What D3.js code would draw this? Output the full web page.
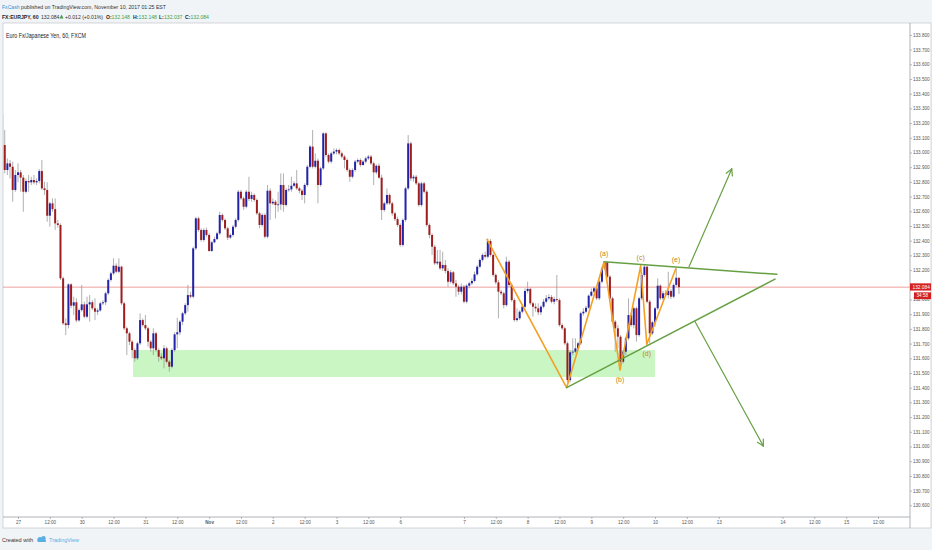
<!DOCTYPE html>
<html>
<head>
<meta charset="utf-8">
<script src="https://cdn.jsdelivr.net/npm/d3@7"></script>
<style>
body { margin: 0; background: #f1f4f7; font-family: "Liberation Sans", Arial, sans-serif; }
</style>
</head>
<body>
<div id="chart"></div>
<script>
// EURJPY 60 min candles, FXCM. bar index 0 = Oct 27 00:00
var firstBar = -6;
var firstOpen = 133.255;

var closes = [
  133.051, 132.881, 132.926, 132.903, 132.745, 132.847, 132.865, 132.829, 132.733, 132.806,
  132.797, 132.813, 132.797, 132.806, 132.874, 132.756, 132.745, 132.570, 132.654, 132.615,
  132.518, 132.507, 132.144, 131.838, 131.826, 132.103, 131.958, 131.981, 131.858, 131.928,
  131.967, 131.883, 131.967, 131.981, 131.940, 131.917, 131.926, 131.974, 131.981, 132.042,
  132.133, 132.178, 132.230, 132.189, 132.223, 131.974, 131.804, 131.770, 131.713, 131.656,
  131.600, 131.702, 131.860, 131.826, 131.804, 131.713, 131.668, 131.770, 131.656, 131.611,
  131.600, 131.668, 131.577, 131.543, 131.656, 131.763, 131.777, 131.849, 131.906, 131.962,
  132.030, 132.019, 132.348, 132.552, 132.473, 132.405, 132.473, 132.439, 132.330, 132.389,
  132.411, 132.450, 132.575, 132.541, 132.484, 132.421, 132.439, 132.495, 132.541, 132.733,
  132.688, 132.631, 132.733, 132.684, 132.711, 132.677, 132.586, 132.507, 132.575, 132.427,
  132.740, 132.654, 132.665, 132.643, 132.647, 132.779, 132.643, 132.745, 132.749, 132.774,
  132.790, 132.756, 132.740, 132.711, 132.779, 132.903, 133.040, 132.903, 132.944, 132.779,
  132.892, 133.130, 132.983, 132.938, 132.994, 133.006, 133.017, 132.994, 132.972, 132.949,
  132.881, 132.835, 132.881, 132.938, 132.949, 132.915, 132.938, 132.960, 132.972, 132.926,
  132.865, 132.910, 132.829, 132.609, 132.654, 132.711, 132.654, 132.586, 132.547, 132.507,
  132.371, 132.541, 132.756, 133.062, 132.824, 132.835, 132.790, 132.643, 132.790, 132.733,
  132.507, 132.439, 132.359, 132.246, 132.257, 132.212, 132.235, 132.194, 132.121, 132.185,
  132.110, 132.087, 132.053, 132.087, 131.985, 132.094, 132.110, 132.126, 132.171, 132.223,
  132.269, 132.303, 132.291, 132.398, 132.303, 132.167, 132.117, 132.053, 132.042, 131.962,
  132.257, 132.099, 131.996, 131.860, 131.872, 131.917, 131.951, 132.058, 132.072, 131.974,
  131.951, 131.940, 131.913, 131.951, 131.985, 132.008, 132.017, 131.985, 132.003, 131.996,
  131.826, 131.804, 131.702, 131.452, 131.641, 131.645, 131.668, 131.702, 131.906, 131.917,
  131.944, 132.026, 132.053, 132.076, 132.008, 132.121, 132.212, 132.253, 132.155, 132.008,
  131.849, 131.804, 131.747, 131.577, 131.645, 131.736, 131.894, 131.826, 131.940, 131.758,
  132.008, 132.167, 132.223, 131.985, 131.770, 131.845, 131.940, 132.094, 132.008, 132.042,
  132.030, 132.058, 132.019, 132.099, 132.148, 132.084
];

var highs = [
  133.357, 133.153, 132.960, 132.949, 132.938, 132.881, 132.926, 132.881, 132.847, 132.824,
  132.847, 132.835, 132.847, 132.824, 132.888, 132.949, 132.801, 132.797, 132.665, 132.688,
  132.688, 132.541, 132.518, 132.155, 131.872, 132.110, 132.110, 132.019, 132.008, 131.940,
  132.099, 131.985, 132.019, 132.030, 131.996, 132.008, 131.940, 131.985, 131.996, 132.053,
  132.144, 132.189, 132.280, 132.246, 132.280, 132.230, 131.985, 131.815, 131.781, 131.724,
  131.668, 131.713, 131.906, 131.872, 131.894, 131.815, 131.724, 131.804, 131.781, 131.668,
  131.634, 131.690, 131.679, 131.588, 131.668, 131.777, 131.876, 131.860, 131.917, 131.974,
  132.099, 132.053, 132.359, 132.563, 132.563, 132.484, 132.484, 132.489, 132.450, 132.398,
  132.427, 132.461, 132.597, 132.586, 132.552, 132.495, 132.450, 132.507, 132.552, 132.745,
  132.745, 132.699, 132.745, 132.835, 132.733, 132.722, 132.688, 132.597, 132.586, 132.586,
  132.779, 132.756, 132.688, 132.677, 132.733, 132.858, 132.858, 132.756, 132.779, 132.835,
  132.806, 132.881, 132.767, 132.752, 132.790, 132.915, 133.051, 133.153, 132.994, 132.960,
  132.903, 133.137, 133.137, 132.994, 133.006, 133.028, 133.028, 133.028, 133.006, 132.983,
  132.960, 132.892, 132.892, 132.949, 132.960, 132.960, 132.949, 132.972, 132.983, 132.983,
  132.938, 132.919, 132.926, 132.850, 132.665, 132.756, 132.722, 132.665, 132.597, 132.563,
  132.518, 132.552, 132.767, 133.119, 133.074, 132.847, 132.847, 132.801, 132.801, 132.801,
  132.745, 132.518, 132.450, 132.371, 132.337, 132.337, 132.325, 132.269, 132.212, 132.201,
  132.194, 132.133, 132.099, 132.110, 132.099, 132.103, 132.121, 132.144, 132.189, 132.235,
  132.280, 132.314, 132.325, 132.416, 132.411, 132.314, 132.178, 132.133, 132.065, 132.053,
  132.291, 132.269, 132.110, 132.008, 131.940, 131.928, 131.962, 132.076, 132.121, 132.081,
  131.985, 131.974, 131.974, 131.962, 132.003, 132.030, 132.035, 132.030, 132.019, 132.167,
  132.008, 131.838, 131.815, 131.713, 131.656, 131.736, 131.736, 131.713, 131.917, 131.940,
  131.958, 132.035, 132.076, 132.087, 132.087, 132.133, 132.223, 132.262, 132.257, 132.167,
  132.019, 131.860, 131.826, 131.758, 131.656, 131.747, 132.008, 131.906, 131.951, 131.951,
  132.019, 132.178, 132.235, 132.230, 131.996, 131.854, 131.951, 132.144, 132.103, 132.058,
  132.065, 132.189, 132.072, 132.110, 132.212, 132.148
];

var lows = [
  133.040, 132.858, 132.847, 132.824, 132.665, 132.733, 132.797, 132.733, 132.597, 132.722,
  132.733, 132.779, 132.783, 132.779, 132.790, 132.745, 132.711, 132.529, 132.495, 132.597,
  132.473, 132.489, 132.133, 131.826, 131.758, 131.804, 131.940, 131.894, 131.845, 131.849,
  131.917, 131.872, 131.872, 131.849, 131.928, 131.860, 131.894, 131.917, 131.962, 131.962,
  132.030, 132.121, 132.167, 132.178, 132.178, 131.962, 131.792, 131.622, 131.690, 131.600,
  131.577, 131.588, 131.690, 131.815, 131.792, 131.679, 131.645, 131.622, 131.645, 131.577,
  131.588, 131.532, 131.566, 131.509, 131.532, 131.645, 131.668, 131.758, 131.826, 131.894,
  131.917, 132.008, 132.008, 132.337, 132.461, 132.393, 132.393, 132.427, 132.325, 132.325,
  132.382, 132.405, 132.439, 132.529, 132.473, 132.405, 132.411, 132.427, 132.484, 132.529,
  132.677, 132.609, 132.620, 132.670, 132.665, 132.665, 132.575, 132.484, 132.495, 132.416,
  132.416, 132.541, 132.643, 132.552, 132.597, 132.609, 132.597, 132.631, 132.733, 132.733,
  132.767, 132.745, 132.722, 132.677, 132.654, 132.767, 132.892, 132.892, 132.892, 132.654,
  132.767, 132.881, 132.972, 132.926, 132.926, 132.983, 132.987, 132.983, 132.960, 132.892,
  132.869, 132.801, 132.824, 132.869, 132.926, 132.903, 132.910, 132.926, 132.949, 132.915,
  132.779, 132.851, 132.820, 132.541, 132.597, 132.643, 132.643, 132.570, 132.534, 132.495,
  132.359, 132.359, 132.529, 132.745, 132.806, 132.801, 132.779, 132.631, 132.631, 132.722,
  132.495, 132.416, 132.303, 132.235, 132.235, 132.201, 132.194, 132.178, 132.087, 132.110,
  132.099, 132.019, 132.030, 132.035, 131.974, 131.974, 132.076, 132.099, 132.117, 132.162,
  132.212, 132.257, 132.280, 132.280, 132.291, 132.155, 132.103, 131.872, 132.030, 131.940,
  131.951, 132.087, 131.985, 131.849, 131.849, 131.860, 131.906, 131.940, 132.042, 131.962,
  131.883, 131.917, 131.894, 131.894, 131.940, 131.974, 131.996, 131.974, 131.967, 131.985,
  131.815, 131.792, 131.690, 131.436, 131.436, 131.622, 131.634, 131.656, 131.690, 131.890,
  131.906, 131.935, 132.019, 132.042, 131.996, 131.996, 132.110, 132.201, 132.144, 131.996,
  131.838, 131.645, 131.668, 131.527, 131.566, 131.622, 131.724, 131.815, 131.804, 131.713,
  131.747, 131.996, 132.155, 131.974, 131.702, 131.758, 131.815, 131.928, 131.996, 131.996,
  132.019, 132.008, 132.003, 132.008, 132.087, 132.037
];

var lastPrice = 132.084;
var countdown = "34:58";

var xTickBars = [0, 12, 24, 36, 48, 60, 72, 84, 96, 108, 120, 132, 144, 168, 180, 192, 204, 216, 228, 240, 252, 264, 288, 300, 312, 324];
var xTickLabels = ["27", "12:00", "30", "12:00", "31", "12:00", "Nov", "12:00", "2", "12:00", "3", "12:00", "6", "7", "12:00", "8", "12:00", "9", "12:00", "10", "12:00", "13", "14", "12:00", "15", "12:00"];
var yTicks = [130.6, 130.7, 130.8, 130.9, 131.0, 131.1, 131.2, 131.3, 131.4, 131.5, 131.6, 131.7, 131.8, 131.9, 132.0,
  132.1, 132.2, 132.3, 132.4, 132.5, 132.6, 132.7, 132.8, 132.9, 133.0, 133.1, 133.2, 133.3, 133.4, 133.5, 133.6, 133.7, 133.8];

// drawings
var zoneBars = [43.3, 240];
var zonePrices = [131.656, 131.473];
var waveBars = [176.6, 206.7, 220.8, 226.8, 234.6, 236.9, 247.9];
var wavePrices = [132.412, 131.400, 132.257, 131.520, 132.230, 131.695, 132.212];
var waveLabels = ["", "", "(a)", "(b)", "(c)", "(d)", "(e)"];
var upperLineBars = [220.8, 285.9];
var upperLinePrices = [132.257, 132.171];
var lowerLineBars = [206.7, 285.2];
var lowerLinePrices = [131.400, 132.139];
var arrowUpBars = [252.8, 268.9];
var arrowUpPrices = [132.223, 132.888];
var arrowDownBars = [255.1, 280.8];
var arrowDownPrices = [131.849, 131.003];

var width = 932, height = 550;
var plotL = 3, plotR = 910, plotT = 23, plotB = 517, axisB = 528;

var svg = d3.select("#chart").append("svg")
    .attr("width", width)
    .attr("height", height);

// header
var header = svg.append("g").style("font-family", "'Liberation Sans', Arial, sans-serif");
header.append("text").attr("x", 2).attr("y", 8.5).attr("font-size", 5.8).attr("fill", "#2f8fd8")
    .attr("textLength", 17.5).attr("lengthAdjust", "spacingAndGlyphs").text("FxCash");
header.append("text").attr("x", 21).attr("y", 8.5).attr("font-size", 5.8).attr("fill", "#333")
    .attr("textLength", 145).attr("lengthAdjust", "spacingAndGlyphs")
    .text("published on TradingView.com, November 10, 2017 01:25 EST");

// second header line: one text, pieces placed with tspans
var headParts = [
  ["FX:EURJPY, 60", 2, "#222", "bold"],
  ["132.084", 41, "#333", "normal"],
  ["+0.012 (+0.01%)", 65, "#333", "normal"],
  ["O:", 106, "#222", "bold"], ["132.148", 111.5, "#43a047", "normal"],
  ["H:", 133, "#222", "bold"], ["132.148", 138.5, "#43a047", "normal"],
  ["L:", 159, "#222", "bold"], ["132.037", 164, "#43a047", "normal"],
  ["C:", 185, "#222", "bold"], ["132.084", 190.5, "#43a047", "normal"]
];
var line2 = header.append("text").attr("y", 18.5).attr("font-size", 5.1);
headParts.forEach(function(p) {
  line2.append("tspan").attr("x", p[1]).attr("fill", p[2]).attr("font-weight", p[3]).text(p[0]);
});
header.append("path").attr("d", "M59.5,18.5 L61.5,14.5 L63.5,18.5 Z").attr("fill", "#43a047");

// panel
svg.append("rect").attr("x", plotL).attr("y", plotT).attr("width", width - plotL - 1).attr("height", axisB - plotT)
    .attr("fill", "#fff").attr("stroke", "#c9ccd0").attr("stroke-width", 0.8);
svg.append("line").attr("x1", plotR).attr("x2", plotR).attr("y1", plotT).attr("y2", axisB)
    .attr("stroke", "#9aa0a6").attr("stroke-width", 0.8);
svg.append("line").attr("x1", plotL).attr("x2", plotR).attr("y1", plotB).attr("y2", plotB)
    .attr("stroke", "#9aa0a6").attr("stroke-width", 0.8);

svg.append("text").attr("x", 6).attr("y", 38).attr("font-size", 6.4).attr("fill", "#222")
    .attr("textLength", 80).attr("lengthAdjust", "spacingAndGlyphs")
    .text("Euro Fx/Japanese Yen, 60, FXCM");

var x = d3.scaleLinear().domain([0, 324]).range([18, 878]);
var y = d3.scaleLinear().domain([131.0, 133.0]).range([446.5, 152.5]);

svg.append("defs").append("clipPath").attr("id", "plot")
    .append("rect").attr("x", plotL).attr("y", plotT).attr("width", plotR - plotL).attr("height", plotB - plotT);

var plot = svg.append("g").attr("clip-path", "url(#plot)");

// support zone
plot.append("rect")
    .attr("x", x(zoneBars[0])).attr("width", x(zoneBars[1]) - x(zoneBars[0]))
    .attr("y", y(zonePrices[0])).attr("height", y(zonePrices[1]) - y(zonePrices[0]))
    .attr("fill", "#c9f6c3");

// last price line
plot.append("line").attr("x1", plotL).attr("x2", plotR)
    .attr("y1", y(lastPrice)).attr("y2", y(lastPrice))
    .attr("stroke", "#e88585").attr("stroke-width", 0.8);

var bars = closes.map(function(c, k) {
  var o = k === 0 ? firstOpen : closes[k - 1];
  return { i: firstBar + k, o: o, c: c, h: Math.max(highs[k], o, c), l: Math.min(lows[k], o, c) };
});

var bw = 2;
plot.selectAll("line.wick").data(bars).enter().append("line")
    .attr("class", "wick")
    .attr("x1", function(d) { return x(d.i); })
    .attr("x2", function(d) { return x(d.i); })
    .attr("y1", function(d) { return y(d.h); })
    .attr("y2", function(d) { return y(d.l); })
    .attr("stroke", "#8e8e8e").attr("stroke-width", 0.7);

plot.selectAll("rect.body").data(bars).enter().append("rect")
    .attr("class", "body")
    .attr("x", function(d) { return x(d.i) - bw / 2; })
    .attr("width", bw)
    .attr("y", function(d) { return y(Math.max(d.o, d.c)); })
    .attr("height", function(d) { return Math.max(0.8, Math.abs(y(d.o) - y(d.c))); })
    .attr("fill", function(d) { return d.c >= d.o ? "#2323aa" : "#9e1d1d"; });

// wave drawing
var wave = waveBars.map(function(b, k) { return [x(b), y(wavePrices[k])]; });
plot.append("path").attr("d", d3.line()(wave))
    .attr("fill", "none").attr("stroke", "#f5a024").attr("stroke-width", 1.6)
    .attr("stroke-linejoin", "round");

function greenLine(bs, ps, w) {
  var p0 = [x(bs[0]), y(ps[0])], p1 = [x(bs[1]), y(ps[1])];
  plot.append("line").attr("x1", p0[0]).attr("y1", p0[1]).attr("x2", p1[0]).attr("y2", p1[1])
      .attr("stroke", "#66a043").attr("stroke-width", w).attr("stroke-linecap", "round");
  return [p0, p1];
}
greenLine(upperLineBars, upperLinePrices, 1.5);
greenLine(lowerLineBars, lowerLinePrices, 1.5);

function arrow(bs, ps) {
  var pts = greenLine(bs, ps, 1.2);
  var a = Math.atan2(pts[1][1] - pts[0][1], pts[1][0] - pts[0][0]);
  var len = 7, sp = 0.5;
  [a + Math.PI - sp, a + Math.PI + sp].forEach(function(t) {
    plot.append("line").attr("x1", pts[1][0]).attr("y1", pts[1][1])
        .attr("x2", pts[1][0] + len * Math.cos(t)).attr("y2", pts[1][1] + len * Math.sin(t))
        .attr("stroke", "#66a043").attr("stroke-width", 1.2).attr("stroke-linecap", "round");
  });
}
arrow(arrowUpBars, arrowUpPrices);
arrow(arrowDownBars, arrowDownPrices);

plot.selectAll("text.wave").data(waveLabels.map(function(t, k) { return { t: t, k: k }; })
    .filter(function(d) { return d.t; }))
  .enter().append("text")
    .attr("class", "wave")
    .attr("x", function(d) { return x(waveBars[d.k]); })
    .attr("y", function(d) {
      var py = y(wavePrices[d.k]);
      var isLow = wavePrices[d.k] < wavePrices[d.k - 1];
      return isLow ? py + 12 : py - 6;
    })
    .attr("text-anchor", "middle").attr("font-size", 7).attr("fill", "#c8850f")
    .text(function(d) { return d.t; });

// price axis (labels hidden behind the last-price tag are left out)
var ly = y(lastPrice);
var yAxis = d3.axisRight(y).tickValues(yTicks).tickFormat(d3.format(".3f")).tickSize(2).tickPadding(1);
var ya = svg.append("g").attr("transform", "translate(" + plotR + ",0)").call(yAxis);
ya.select(".domain").remove();
ya.selectAll("line").attr("stroke", "#8a8f94").attr("stroke-width", 0.6);
ya.selectAll("text").attr("font-size", 4.6).attr("fill", "#555")
    .style("font-family", "'Liberation Sans', Arial, sans-serif")
    .style("display", function(d) { return Math.abs(y(d) - ly) < 6 ? "none" : null; });

// last price label + countdown
svg.append("rect").attr("x", plotR).attr("y", ly - 3.8).attr("width", 21).attr("height", 7.2).attr("fill", "#d32020");
svg.append("text").attr("x", plotR + 2.5).attr("y", ly + 1.7).attr("font-size", 4.8).attr("fill", "#fff")
    .text(d3.format(".3f")(lastPrice));
svg.append("rect").attr("x", 914).attr("y", ly + 5.2).attr("width", 17).attr("height", 6.8).attr("fill", "#d32020");
svg.append("text").attr("x", 916.5).attr("y", ly + 10.2).attr("font-size", 4.6).attr("fill", "#fff").text(countdown);

// time axis
var xAxis = d3.axisBottom(x).tickValues(xTickBars)
    .tickFormat(function(d, k) { return xTickLabels[k]; }).tickSize(2).tickPadding(2);
var xa = svg.append("g").attr("transform", "translate(0," + plotB + ")").call(xAxis);
xa.select(".domain").remove();
xa.selectAll("line").attr("stroke", "#8a8f94").attr("stroke-width", 0.6);
xa.selectAll("text").attr("font-size", 4.6).attr("fill", "#555")
    .style("font-family", "'Liberation Sans', Arial, sans-serif")
    .attr("font-weight", function(d, k) { return xTickLabels[k] === "Nov" ? "bold" : "normal"; });

// footer
svg.append("text").attr("x", 2).attr("y", 542).attr("font-size", 6).attr("fill", "#333")
    .attr("textLength", 31).attr("lengthAdjust", "spacingAndGlyphs").text("Created with");
var logo = svg.append("g").attr("fill", "#5aaee3");
logo.append("circle").attr("cx", 40).attr("cy", 539.5).attr("r", 2.6);
logo.append("circle").attr("cx", 43.5).attr("cy", 538.2).attr("r", 2.2);
logo.append("rect").attr("x", 37.5).attr("y", 539.5).attr("width", 8.5).attr("height", 2.6).attr("rx", 1.2);
svg.append("text").attr("x", 49).attr("y", 542).attr("font-size", 6).attr("fill", "#5aaee3")
    .attr("textLength", 30).attr("lengthAdjust", "spacingAndGlyphs").text("TradingView");
</script>
</body>
</html>
